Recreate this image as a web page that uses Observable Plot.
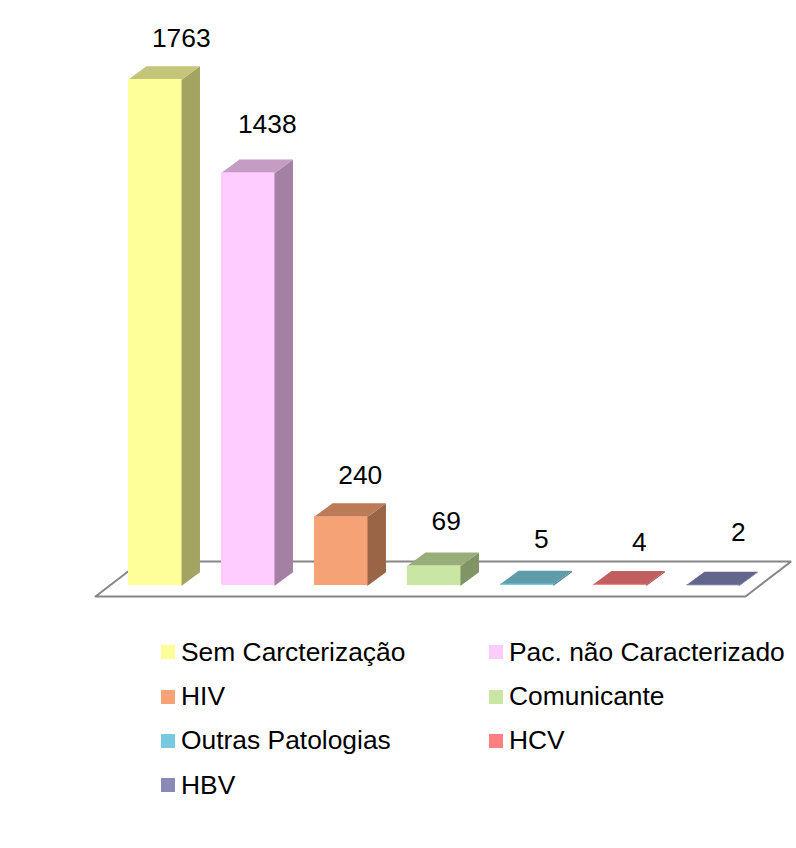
<!DOCTYPE html>
<html>
<head>
<meta charset="utf-8">
<script src="https://cdn.jsdelivr.net/npm/d3@7"></script>
<script src="https://cdn.jsdelivr.net/npm/@observablehq/plot@0.6"></script>
<style>
  html, body { margin: 0; padding: 0; background: #fff; }
  body { width: 796px; height: 848px; overflow: hidden; font-family: "Liberation Sans", Arial, sans-serif; color: #000; }
  #chart svg { display: block; }
  #legend { display: grid; grid-template-columns: 328px 300px; grid-auto-rows: 44.4px; margin-left: 161px; font-size: 26.4px; }
  .item { display: flex; align-items: center; white-space: nowrap; }
  .sw { width: 14px; height: 14px; margin-right: 6px; flex: none; }
</style>
</head>
<body>
<div id="chart"></div>
<div id="legend"></div>
<script>
const categories = ["Sem Carcterização", "Pac. não Caracterizado", "HIV", "Comunicante", "Outras Patologias", "HCV", "HBV"];
const values = [1763, 1438, 240, 69, 5, 4, 2];
const frontColors = ["#FFFF99", "#FFCCFF", "#F4A276", "#C9E6A4", "#78C9DF", "#FF8080", "#8989B8"];
const topColors = ["#C4C47A", "#C49CC4", "#BB7B58", "#99AD7B", "#5F9CA9", "#C05E60", "#62658C"];
const sideColors = ["#A3A362", "#A580A5", "#9A6546", "#809465", "#4F838F", "#A04E50", "#525575"];
// label placement, in pixels relative to each bar's top
const labelLift = [33, 40, 33, 36, 36, 33, 44];
const labelShift = [17, 10, 10, 3, 5, 10, 16];

// 3-D projection, in data units; the overlaps tuck the faces under the front rectangle
const barW = 0.575, depthX = 0.1935, depthY = 46.3, overlapX = 0.012, overlapY = 1.5;
const floorL = -0.355, floorR = 6.634, floorFront = -38.3, floorBack = 83.6, floorSkew = 0.491;

const table = categories.map((name, i) => ({name, value: values[i], i}));

const faces = table.flatMap(d => {
  const a = d.i, b = d.i + barW, v = d.value;
  const poly = (face, color, pts) => pts.map(([x, y]) => ({key: `${d.i}-${face}`, color, x, y}));
  return [
    ...poly("side", sideColors[d.i], [[b - overlapX, 0], [b, 0], [b + depthX, depthY], [b + depthX, v + depthY], [b, v], [b - overlapX, v]]),
    ...poly("top", topColors[d.i], [[a, v - overlapY], [a, v], [a + depthX, v + depthY], [b + depthX, v + depthY], [b, v], [b, v - overlapY]])
  ];
});

const floor = [
  {x: floorL, y: floorFront},
  {x: floorR, y: floorFront},
  {x: floorR + floorSkew, y: floorBack},
  {x: floorL + floorSkew, y: floorBack},
  {x: floorL, y: floorFront}
];

const chart = Plot.plot({
  width: 796, height: 630,
  marginTop: 0, marginRight: 0, marginBottom: 0, marginLeft: 0,
  x: {axis: null, domain: [-128 / 93, 668 / 93], range: [0, 796]},
  y: {axis: null, domain: [-45 / 0.287, 585 / 0.287], range: [630, 0]},
  color: {type: "identity"},
  style: {fontFamily: '"Liberation Sans", Arial, sans-serif', background: "transparent"},
  marks: [
    Plot.line(floor, {x: "x", y: "y", fill: "#fff", stroke: "#868686", strokeWidth: 2, strokeLinejoin: "miter"}),
    Plot.line(faces, {x: "x", y: "y", z: "key", fill: "color", stroke: null}),
    Plot.rect(table, {x1: "i", x2: d => d.i + barW, y1: 0, y2: "value", fill: d => frontColors[d.i], inset: 0}),
    ...table.map(d => Plot.text([d], {
      x: d => d.i + barW / 2 + depthX / 2,
      y: "value",
      text: d => String(d.value),
      dx: labelShift[d.i],
      dy: -labelLift[d.i],
      fontSize: 26.4, fill: "#000", lineAnchor: "bottom"
    }))
  ]
});
document.getElementById("chart").appendChild(chart);

const legend = document.getElementById("legend");
categories.forEach((name, i) => {
  const item = document.createElement("div");
  item.className = "item";
  const sw = document.createElement("span");
  sw.className = "sw";
  sw.style.background = frontColors[i];
  const t = document.createElement("span");
  t.textContent = name;
  item.append(sw, t);
  legend.appendChild(item);
});
</script>
</body>
</html>
